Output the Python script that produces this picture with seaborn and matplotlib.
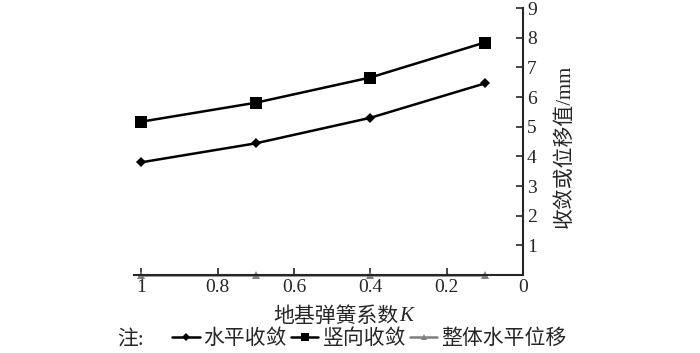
import numpy as np
import pandas as pd
import seaborn as sns
import matplotlib
matplotlib.use("Agg")
import matplotlib.pyplot as plt

k_values = [1.0, 0.7, 0.4, 0.1]
horizontal = [3.80, 4.44, 5.30, 6.46]
vertical = [5.17, 5.81, 6.66, 7.84]
overall = [0.0, 0.0, 0.0, 0.0]
series_names = ["水平收敛", "竖向收敛", "整体水平位移"]

sns.set_style("ticks")
plt.rcParams['font.family'] = ['Liberation Serif', 'Noto Sans CJK SC']

df = pd.DataFrame({
    "K": k_values * 3,
    "value": horizontal + vertical + overall,
    "series": [series_names[0]] * 4 + [series_names[1]] * 4 + [series_names[2]] * 4,
})

fig = plt.figure(figsize=(7, 3.53), dpi=100)
ax = fig.add_axes([0.191, 0.221, 0.556, 0.756])

palette = {series_names[0]: "black", series_names[1]: "black", series_names[2]: "#7f7f7f"}
markers = {series_names[0]: "D", series_names[1]: "s", series_names[2]: "^"}
sizes = {series_names[0]: 5.5, series_names[1]: 8, series_names[2]: 6}
zorders = {series_names[0]: 3, series_names[1]: 3, series_names[2]: 2}

for name in series_names:
    sub = df[df["series"] == name]
    sns.lineplot(data=sub, x="K", y="value", color=palette[name], marker=markers[name],
                 markersize=sizes[name], linewidth=1.8, markeredgewidth=0,
                 ax=ax, label=name, clip_on=False, zorder=zorders[name])

ax.set_xlim(1.02, 0)
ax.set_ylim(0, 9)
ax.set_xticks([1, 0.8, 0.6, 0.4, 0.2, 0])
ax.set_xticklabels(["1", "0.8", "0.6", "0.4", "0.2", "0"])
ax.set_yticks(range(1, 10))
ax.yaxis.tick_right()
ax.spines["left"].set_visible(False)
ax.spines["top"].set_visible(False)
ax.spines["right"].set_linewidth(1.5)
ax.spines["bottom"].set_linewidth(1.5)
ax.tick_params(axis="both", direction="in", length=5, width=1.2, labelsize=14, pad=3)
ax.tick_params(axis="y", pad=3)
ax.set_xlabel("")
ax.set_ylabel("")

# axis titles
fig.text(0.570, 0.102, "地基弹簧系数", fontsize=15, ha="right", va="center")
fig.text(0.571, 0.102, "K", fontsize=15, style="italic", ha="left", va="center")
fig.text(0.807, 0.586, "收敛或位移值/mm", fontsize=15, rotation=90, ha="center", va="center")

handles, labels = ax.get_legend_handles_labels()
ax.get_legend().remove()
fig.legend(handles, labels, loc="center", bbox_to_anchor=(0.528, 0.038), ncol=3,
           frameon=False, fontsize=15, handlelength=1.3, handletextpad=0.2,
           columnspacing=0.2, borderaxespad=0, markerscale=0.75)
fig.text(0.167, 0.038, "注:", fontsize=15, ha="left", va="center")

fig.savefig("out.png", dpi=100)
